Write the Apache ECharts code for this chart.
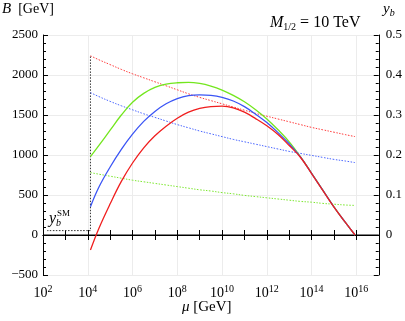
<!DOCTYPE html>
<html>
<head>
<meta charset="utf-8">
<script src="https://cdn.jsdelivr.net/npm/echarts@6/dist/echarts.min.js"></script>
<style>
  html, body { margin: 0; padding: 0; background: #fff; }
  #chart { width: 405px; height: 321px; }
</style>
</head>
<body>
<div id="chart"></div>
<script>
// log10(mu / GeV)
const logMu = [4.12, 4.5, 5, 5.5, 6, 6.5, 7, 7.5, 8, 8.5, 9, 9.5, 10, 10.5, 11, 11.5, 12, 12.5, 13, 13.5, 14, 14.5, 15, 15.5, 15.94]
// B [GeV], left axis
const greenB = [979, 1120, 1310, 1500, 1660, 1770, 1845, 1885, 1903, 1908, 1895, 1862, 1812, 1745, 1665, 1565, 1450, 1315, 1165, 980, 772, 562, 352, 161, 0]
const blueB = [354, 600, 850, 1070, 1260, 1420, 1545, 1640, 1705, 1742, 1752, 1745, 1720, 1675, 1605, 1510, 1405, 1280, 1140, 976, 770, 560, 350, 160, 0]
const redB = [-188, 85, 390, 670, 900, 1090, 1240, 1360, 1460, 1535, 1582, 1605, 1610, 1590, 1535, 1455, 1365, 1255, 1118, 972, 768, 558, 349, 160, 0]
// y_b, right axis
const redYb = [0.448, 0.438, 0.426, 0.414, 0.403, 0.393, 0.383, 0.373, 0.363, 0.353, 0.344, 0.336, 0.328, 0.32, 0.312, 0.304, 0.297, 0.29, 0.283, 0.276, 0.269, 0.263, 0.257, 0.251, 0.246]
const blueYb = [0.356, 0.346, 0.334, 0.323, 0.313, 0.303, 0.294, 0.285, 0.276, 0.268, 0.26, 0.253, 0.246, 0.239, 0.233, 0.227, 0.221, 0.215, 0.209, 0.204, 0.199, 0.194, 0.189, 0.185, 0.181]
const greenYb = [0.156, 0.152, 0.147, 0.142, 0.137, 0.133, 0.129, 0.125, 0.121, 0.117, 0.113, 0.11, 0.106, 0.103, 0.099, 0.096, 0.093, 0.09, 0.087, 0.084, 0.082, 0.079, 0.077, 0.075, 0.074]
// y_b^SM threshold line
const smLog = [2.18, 4.12, 4.12]
const smYb = [0.011, 0.011, 0.448]

const font = 'Liberation Serif'
const pair = (xs, ys) => xs.map((x, i) => [x, ys[i]])

const chart = echarts.init(document.getElementById('chart'))

function solid(data, color) {
  return {
    type: 'line', xAxisIndex: 0, yAxisIndex: 0, data: data,
    smooth: 0.4, showSymbol: false,
    lineStyle: { color: color, width: 1.3 }
  }
}
function dotted(data, color) {
  return {
    type: 'line', xAxisIndex: 0, yAxisIndex: 1, data: data,
    smooth: 0.4, showSymbol: false,
    lineStyle: { color: color, width: 1, type: [1.5, 1.5] }
  }
}

const tickStyle = { show: true, inside: true, length: 5, lineStyle: { color: '#000' } }
const minorStyle = { show: true, length: 3, lineStyle: { color: '#000' } }

chart.setOption({
  backgroundColor: '#fff',
  animation: false,
  grid: { left: 43, right: 24, top: 35, bottom: 46 },
  xAxis: [{
    type: 'value', min: 2, max: 17, interval: 2, position: 'bottom',
    axisLine: { lineStyle: { color: '#000' } },
    axisTick: tickStyle,
    minorTick: { show: true, splitNumber: 2, length: 5, lineStyle: { color: '#000' } },
    splitLine: { show: true, lineStyle: { color: '#ececec' } },
    axisLabel: {
      margin: 9, color: '#000', fontFamily: font, fontSize: 14,
      formatter: function (v) { return v > 16 ? '' : '10{s|' + v + '}' },
      rich: { s: { fontSize: 10, fontFamily: font, verticalAlign: 'bottom', padding: [0, 0, 8, 0] } }
    }
  }, {
    type: 'value', min: 2, max: 17, interval: 2, position: 'top',
    axisLine: { lineStyle: { color: '#000' } },
    axisTick: tickStyle,
    minorTick: { show: true, splitNumber: 2, length: 5, lineStyle: { color: '#000' } },
    axisLabel: { show: false },
    splitLine: { show: false }
  }],
  yAxis: [{
    type: 'value', min: -500, max: 2500, interval: 500, position: 'left',
    axisLine: { show: true, lineStyle: { color: '#000' } },
    axisTick: tickStyle,
    minorTick: Object.assign({ splitNumber: 5 }, minorStyle),
    splitLine: { show: true, lineStyle: { color: '#ececec' } },
    axisLabel: {
      margin: 5, color: '#000', fontFamily: font, fontSize: 13,
      formatter: function (v) { return v < 0 ? '\u2212' + (-v) : String(v) }
    }
  }, {
    type: 'value', min: -0.1, max: 0.5, interval: 0.1, position: 'right',
    axisLine: { show: true, lineStyle: { color: '#000' } },
    axisTick: tickStyle,
    minorTick: Object.assign({ splitNumber: 5 }, minorStyle),
    splitLine: { show: false },
    axisLabel: {
      margin: 7, color: '#000', fontFamily: font, fontSize: 13,
      formatter: function (v) { return v < 0 ? '' : (Math.round(v * 10) / 10).toString() }
    }
  }],
  series: [
    {
      type: 'line', xAxisIndex: 0, yAxisIndex: 0, data: [[2, 0], [17, 0]],
      showSymbol: false, lineStyle: { color: '#000', width: 1 }
    },
    dotted(pair(smLog, smYb), '#333'),
    dotted(pair(logMu, redYb), '#ff3a3a'),
    dotted(pair(logMu, blueYb), '#4a66ff'),
    dotted(pair(logMu, greenYb), '#7de830'),
    solid(pair(logMu, greenB), '#73e61e'),
    solid(pair(logMu, blueB), '#3b55f5'),
    solid(pair(logMu, redB), '#f01e1e')
  ],
  graphic: [
    {
      type: 'text', left: 2, top: 2,
      style: {
        text: '{i|B}  [GeV]', fill: '#000', font: '14px ' + font,
        rich: { i: { fontStyle: 'italic', fontFamily: font, fontSize: 15 } }
      }
    },
    {
      type: 'text', left: 383, top: 2,
      style: {
        text: '{i|y}{sub|b}', fill: '#000',
        rich: {
          i: { fontStyle: 'italic', fontFamily: font, fontSize: 15 },
          sub: { fontStyle: 'italic', fontFamily: font, fontSize: 10, verticalAlign: 'top', padding: [8, 0, 0, 0] }
        }
      }
    },
    {
      type: 'text', left: 270, top: 15,
      style: {
        text: '{i|M}{sub|1/2} = 10 TeV', fill: '#000', font: '16px ' + font,
        rich: {
          i: { fontStyle: 'italic', fontFamily: font, fontSize: 16 },
          sub: { fontFamily: font, fontSize: 10, verticalAlign: 'top', padding: [9, 0, 0, 0] }
        }
      }
    },
    {
      type: 'text', left: 49, top: 209,
      style: {
        text: '{i|y}{sub|b}{sup|SM}', fill: '#000',
        rich: {
          i: { fontStyle: 'italic', fontFamily: font, fontSize: 16 },
          sub: { fontStyle: 'italic', fontFamily: font, fontSize: 10, verticalAlign: 'top', padding: [9, 0, 0, 0] },
          sup: { fontFamily: font, fontSize: 9, verticalAlign: 'bottom', padding: [0, 0, 10, -4] }
        }
      }
    },
    {
      type: 'text', left: 182, top: 300,
      style: {
        text: '{i|\u03bc} [GeV]', fill: '#000', font: '15px ' + font,
        rich: { i: { fontStyle: 'italic', fontFamily: font, fontSize: 15 } }
      }
    }
  ]
})
</script>
</body>
</html>
